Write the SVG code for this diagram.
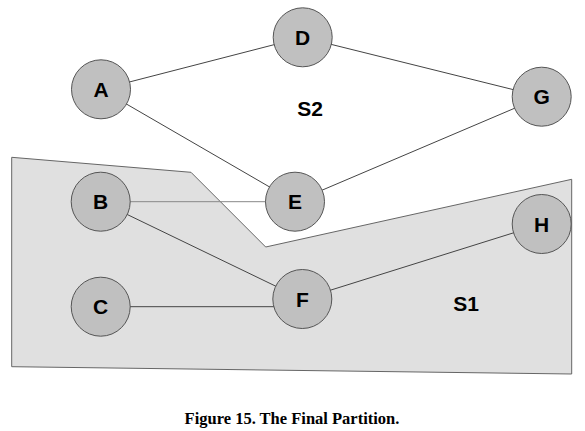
<svg xmlns="http://www.w3.org/2000/svg" width="585" height="431" viewBox="0 0 585 431">
<style>
.node circle{fill:#c0c0c0;stroke:#555;stroke-width:1}
.node text,.lbl{font-family:"Liberation Sans",Arial,sans-serif;font-weight:bold;font-size:21px;fill:#000;text-anchor:middle}
.edges line{stroke:#444;stroke-width:1}
.cap{font-family:"Liberation Serif","Times New Roman",serif;font-weight:bold;font-size:16.5px;text-anchor:middle;fill:#000}
</style>
<rect width="585" height="431" fill="#fff"/>
<polygon id="S1-region" points="11.7,157.3 191,172.3 265.7,247 571.7,179.3 571.7,374 11.7,366.7" fill="#e0e0e0" stroke="#666" stroke-width="1"/>
<text class="lbl" x="310" y="115.5">S2</text>
<text class="lbl" x="466" y="310.5">S1</text>
<g id="edges" class="edges">
<line x1="101" y1="89.3" x2="302.7" y2="37.3"/>
<line x1="101" y1="89.3" x2="295" y2="201.7"/>
<line x1="302.7" y1="37.3" x2="541.7" y2="96.7"/>
<line x1="295" y1="201.7" x2="541.7" y2="96.7"/>
<line x1="100.7" y1="201.7" x2="295" y2="201.7" style="stroke:#888"/>
<line x1="100.7" y1="201.7" x2="302.3" y2="299"/>
<line x1="100.7" y1="306.7" x2="302.3" y2="306.7"/>
<line x1="302.3" y1="299" x2="541.7" y2="224"/>
</g>
<g id="A" class="node"><circle cx="101" cy="89.3" r="29.5"/><text x="101" y="96.8">A</text></g>
<g id="D" class="node"><circle cx="302.7" cy="37.3" r="29.5"/><text x="302.7" y="44.8">D</text></g>
<g id="G" class="node"><circle cx="541.7" cy="96.7" r="29.5"/><text x="541.7" y="104.2">G</text></g>
<g id="B" class="node"><circle cx="100.7" cy="201.7" r="29.5"/><text x="100.7" y="209.2">B</text></g>
<g id="E" class="node"><circle cx="295" cy="201.7" r="29.5"/><text x="295" y="209.2">E</text></g>
<g id="H" class="node"><circle cx="541.7" cy="224" r="29.5"/><text x="541.7" y="231.5">H</text></g>
<g id="C" class="node"><circle cx="100.7" cy="306.7" r="29.5"/><text x="100.7" y="314.2">C</text></g>
<g id="F" class="node"><circle cx="302.3" cy="299" r="29.5"/><text x="302.3" y="306.5">F</text></g>
<text class="cap" x="292" y="424">Figure 15. The Final Partition.</text>
</svg>
